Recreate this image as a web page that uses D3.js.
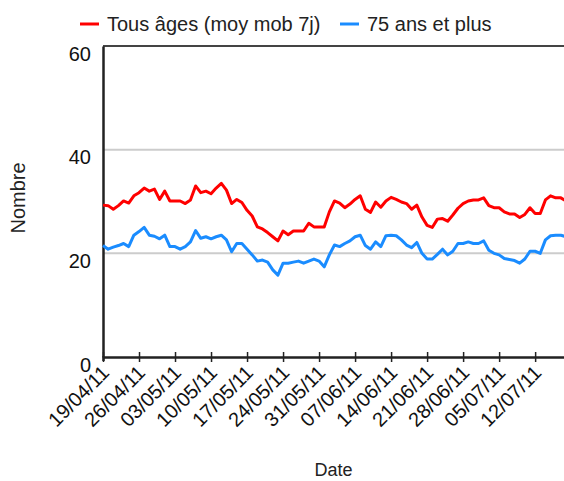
<!DOCTYPE html>
<html>
<head>
<meta charset="utf-8">
<script src="https://cdn.jsdelivr.net/npm/d3@7"></script>
<style>
  body { margin: 0; background: #fff; }
  svg { display: block; font-family: "Liberation Sans", Arial, sans-serif; }
</style>
</head>
<body>
<div id="chart"></div>
<script>
// séries (une valeur par jour, du 19/04/11 au 18/07/11)
const startDate = "2011-04-19";
const endDate = "2011-07-18";

const tousAges = [
  29.3, 29.2, 28.5, 29.2, 30.1, 29.7, 31.1, 31.7, 32.6, 32.0,
  32.4, 30.4, 32.0, 30.1, 30.1, 30.1, 29.6, 30.3, 33.0, 31.7,
  32.0, 31.5, 32.6, 33.5, 32.2, 29.6, 30.4, 29.8, 28.3, 27.2,
  25.1, 24.7, 24.0, 23.2, 22.4, 24.3, 23.6, 24.3, 24.3, 24.3,
  25.8, 25.1, 25.1, 25.1, 28.0, 30.1, 29.7, 28.8, 29.5, 30.4,
  31.1, 28.5, 27.9, 29.9, 28.9, 30.1, 30.8, 30.4, 29.9, 29.6,
  28.5, 29.3, 27.0, 25.4, 25.0, 26.6, 26.7, 26.2, 27.4, 28.7,
  29.6, 30.1, 30.3, 30.3, 30.7, 29.2, 28.8, 28.8, 28.0, 27.6,
  27.6, 26.9, 27.5, 28.8, 27.7, 27.7, 30.3, 31.1, 30.7, 30.7,
  30.1
];

const plus75 = [
  21.5, 20.8, 21.2, 21.5, 21.9, 21.3, 23.5, 24.2, 25.0, 23.5,
  23.3, 22.8, 23.5, 21.3, 21.3, 20.8, 21.3, 22.2, 24.4, 22.9,
  23.2, 22.8, 23.2, 23.5, 22.6, 20.3, 21.9, 21.9, 20.8, 19.7,
  18.5, 18.7, 18.3, 16.8, 15.8, 18.1, 18.1, 18.3, 18.5, 18.1,
  18.5, 18.9, 18.5, 17.4, 19.7, 21.6, 21.3, 21.9, 22.4, 23.2,
  23.5, 21.5, 20.8, 22.2, 21.3, 23.4, 23.5, 23.4, 22.6, 21.6,
  21.1, 22.1, 20.0, 18.9, 18.9, 19.8, 20.8, 19.7, 20.4, 21.9,
  21.9, 22.2, 21.9, 21.9, 22.4, 20.6, 20.0, 19.7, 19.0, 18.8,
  18.6, 18.1, 18.9, 20.4, 20.4, 20.0, 22.6, 23.4, 23.5, 23.5,
  23.2
];

const tickLabels = [
  "19/04/11", "26/04/11", "03/05/11", "10/05/11", "17/05/11", "24/05/11", "31/05/11",
  "07/06/11", "14/06/11", "21/06/11", "28/06/11", "05/07/11", "12/07/11"
];

const yTicks = [0, 20, 40, 60];

const seriesNames = ["Tous âges (moy mob 7j)", "75 ans et plus"];
const seriesColors = ["#ff0000", "#1a8cff"];

//==============================================================================

const width = 564, height = 481;
const margin = {top: 46, right: -2, bottom: 124, left: 103};
const fontSize = 20;

const parseDay = d3.timeParse("%Y-%m-%d");
const parseLabel = d3.timeParse("%d/%m/%y");
const days = d3.timeDay.range(parseDay(startDate), d3.timeDay.offset(parseDay(endDate), 1));

const x = d3.scaleTime()
    .domain([parseDay(startDate), parseDay(endDate)])
    .range([margin.left, width - margin.right]);

const y = d3.scaleLinear()
    .domain([0, 60])
    .range([height - margin.bottom, margin.top]);

const svg = d3.select("#chart").append("svg")
    .attr("width", width)
    .attr("height", height);

// grille horizontale
svg.append("g")
  .selectAll("line")
  .data(yTicks.filter(d => d > 0 && d < 60))
  .join("line")
    .attr("x1", margin.left)
    .attr("x2", width)
    .attr("y1", d => y(d))
    .attr("y2", d => y(d))
    .attr("stroke", "#cccccc")
    .attr("stroke-width", 2);

// cadre du haut
svg.append("line")
    .attr("x1", margin.left)
    .attr("x2", width)
    .attr("y1", y(60))
    .attr("y2", y(60))
    .attr("stroke", "#444")
    .attr("stroke-width", 2);

// axe Y
const yAxis = svg.append("g")
    .attr("transform", `translate(${margin.left},0)`)
    .call(d3.axisLeft(y).tickValues(yTicks).tickSize(0).tickPadding(12));
yAxis.select(".domain").attr("stroke", "#222").attr("stroke-width", 2.5);
yAxis.selectAll("text")
    .attr("font-size", fontSize)
    .attr("fill", "#111")
    .attr("dy", "0.7em")
    .attr("font-family", "Liberation Sans, Arial, sans-serif");

// lignes
const line = d3.line()
    .x((d, i) => x(days[i]))
    .y(d => y(d));

[tousAges, plus75].forEach((values, k) => {
  svg.append("path")
      .datum(values)
      .attr("fill", "none")
      .attr("stroke", seriesColors[k])
      .attr("stroke-width", 3)
      .attr("stroke-linejoin", "round")
      .attr("d", line);
});

// axe X
const xAxis = svg.append("g")
    .attr("transform", `translate(0,${y(0)})`)
    .call(d3.axisBottom(x)
      .tickValues(tickLabels.map(parseLabel))
      .tickFormat(d3.timeFormat("%d/%m/%y"))
      .tickSizeOuter(0)
      .tickSize(4));
xAxis.select(".domain").attr("stroke", "#222").attr("stroke-width", 2.5);
xAxis.selectAll(".tick line")
    .attr("y1", -5)
    .attr("y2", 5)
    .attr("stroke", "#222")
    .attr("stroke-width", 1.5);
xAxis.selectAll(".tick text")
    .attr("font-size", fontSize)
    .attr("fill", "#111")
    .attr("font-family", "Liberation Sans, Arial, sans-serif")
    .attr("text-anchor", "end")
    .attr("y", 0)
    .attr("dy", "0.35em")
    .attr("transform", "translate(2,12) rotate(-45)");

// titres des axes
svg.append("text")
    .attr("transform", `translate(25,198) rotate(-90)`)
    .attr("text-anchor", "middle")
    .attr("font-size", fontSize)
    .attr("fill", "#222")
    .text("Nombre");

svg.append("text")
    .attr("x", (margin.left + width) / 2)
    .attr("y", 476)
    .attr("text-anchor", "middle")
    .attr("font-size", 18)
    .attr("fill", "#222")
    .text("Date");

// légende
const legend = svg.append("g");
const legendX = [80, 340];
seriesNames.forEach((name, k) => {
  const g = legend.append("g").attr("transform", `translate(${legendX[k]},24)`);
  g.append("line")
      .attr("x1", 0).attr("x2", 19)
      .attr("stroke", seriesColors[k])
      .attr("stroke-width", 3);
  g.append("text")
      .attr("x", 27)
      .attr("dy", "0.35em")
      .attr("font-size", fontSize)
      .attr("fill", "#222")
      .text(name);
});
</script>
</body>
</html>
